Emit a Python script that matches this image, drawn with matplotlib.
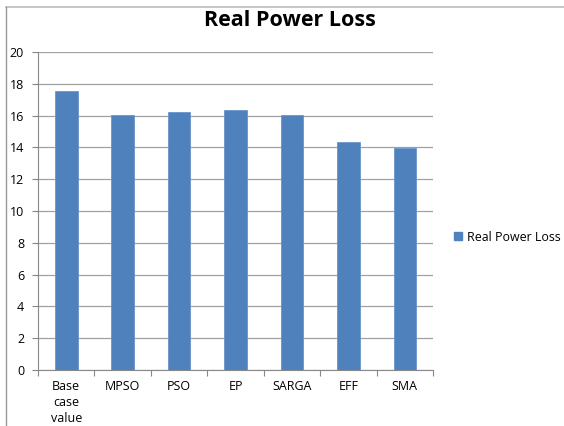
import matplotlib
matplotlib.use("Agg")
import matplotlib.pyplot as plt
from matplotlib.lines import Line2D

categories = ["Base\ncase\nvalue", "MPSO", "PSO", "EP", "SARGA", "EFF", "SMA"]
values = [17.55, 16.03, 16.2, 16.37, 16.06, 14.34, 13.98]
series_name = "Real Power Loss"
yticks = [0, 2, 4, 6, 8, 10, 12, 14, 16, 18, 20]

plt.rcParams['font.family'] = ['Open Sans', 'DejaVu Sans']

fig = plt.figure(figsize=(5.64, 4.26), dpi=100)
ax = fig.add_axes([38/564, 56/426, 395/564, 318/426])

x = list(range(len(categories)))
ax.bar(x, values, width=0.4, color="#4F81BD", edgecolor="#6A96CC", linewidth=0.6,
       label=series_name, zorder=3)
ax.set_xlim(-0.5, len(categories) - 0.5)
ax.set_ylim(0, 20)
ax.set_yticks(yticks)
ax.set_yticklabels([str(t) for t in yticks], fontsize=9)
ax.yaxis.grid(True, color="#A0A0A0", linewidth=0.9, zorder=0)
ax.set_axisbelow(True)

ax.set_xticks([i + 0.5 for i in range(-1, len(categories))])
ax.set_xticklabels([])
ax.tick_params(axis='x', length=4, color="#888888", direction='out')
ax.tick_params(axis='y', length=4, color="#888888", direction='out', pad=6)
for i, c in enumerate(categories):
    ax.text(i, -0.6, c, ha='center', va='top', fontsize=9, linespacing=1.3,
            transform=ax.transData)

for s in ['top', 'right']:
    ax.spines[s].set_visible(False)
ax.spines['left'].set_color("#888888")
ax.spines['bottom'].set_color("#888888")

fig.text(290/564, 1 - 20/426, "Real Power Loss", ha='center', va='center',
         fontsize=15.5, fontweight='bold')

handle = Line2D([0], [0], marker='s', color='none', markerfacecolor="#4F81BD",
                markeredgecolor="#4F81BD", markersize=6)
fig.legend([handle], [series_name], loc='center left',
           bbox_to_anchor=(451/564, 1 - 237/426), frameon=False, fontsize=8.9,
           handletextpad=0.1, handlelength=1.2, borderaxespad=0, borderpad=0)

# outer frame lines (top and left)
fig.add_artist(Line2D([6/564, 1], [1 - 7/426, 1 - 7/426], color="#BBBBBB", linewidth=1.2,
                      transform=fig.transFigure))
fig.add_artist(Line2D([6/564, 6/564], [0, 1 - 7/426], color="#999999", linewidth=1.0,
                      transform=fig.transFigure))

fig.savefig("out.png", dpi=100)
